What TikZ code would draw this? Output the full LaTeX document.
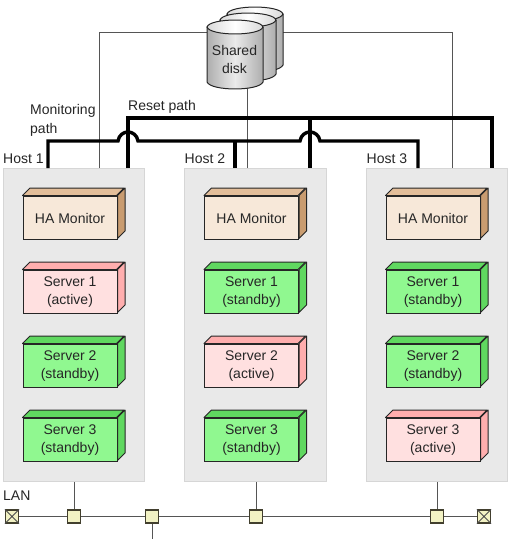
\documentclass[tikz,border=0pt]{standalone}
\usepackage{fontspec}
\setmainfont{Liberation Sans}
\usetikzlibrary{calc}
\definecolor{hostfill}{HTML}{E9E9E9}
\definecolor{hostline}{HTML}{D6D6D6}
\definecolor{hafront}{HTML}{F7E8D9}
\definecolor{hatop}{HTML}{E3BE9A}
\definecolor{haside}{HTML}{C99C70}
\definecolor{redfront}{HTML}{FFE0E0}
\definecolor{redside}{HTML}{FFAEAE}
\definecolor{greenfront}{HTML}{90F890}
\definecolor{greenside}{HTML}{60D860}
\definecolor{hubfill}{HTML}{F2F2C4}
\definecolor{wire}{HTML}{555555}
\tikzset{
  lbl/.style={font=\fontsize{14}{18.5}\selectfont,text=black!85,inner sep=0pt,align=left},
  hostbox/.style={draw=hostline,fill=hostfill,line width=0.8pt,minimum width=141.5pt,minimum height=313.5pt,inner sep=0pt},
  front/.style={draw=black!85,line width=1pt,minimum width=94pt,minimum height=43pt,inner sep=0pt},
  boxtext/.style={inner sep=0pt,align=center,font=\fontsize{14}{18.5}\selectfont,text=black!85},
  thin wire/.style={draw=wire,line width=1pt},
  thick wire/.style={draw=black,line width=3.4pt,line join=miter},
  hub/.style={draw=black!70!olive,fill=hubfill,line width=1.1pt,minimum size=13pt,inner sep=0pt},
}
% name, centre x, centre y, front, top, side, text
\newcommand\srvbox[7]{%
  \node[front,fill=#4] (#1) at (#2,#3) {};
  \node[boxtext] (#1t) at ([yshift=-0.8pt]#1.center) {#7};
  \draw[draw=black!85,line width=1pt,fill=#5,line join=round]
    (#1.north west) -- ++(7.5pt,7.5pt) -- ++(94pt,0pt) -- ++(-7.5pt,-7.5pt) -- cycle;
  \draw[draw=black!85,line width=1pt,fill=#6,line join=round]
    (#1.north east) -- ++(7.5pt,7.5pt) -- ++(0pt,-43pt) -- ++(-7.5pt,-7.5pt) -- cycle;
}
% left x, top y (upper rim), bottom y
\newcommand\cyl[3]{%
  \path[left color=black!32,right color=black!32,middle color=white!92!black]
    (#1,#2+7) -- (#1,#3-7) .. controls (#1+4,#3+2.3) and (#1+52,#3+2.3) .. (#1+56,#3-7) -- (#1+56,#2+7) -- cycle;
  \draw[black!85,line width=1pt]
    (#1,#2+7) -- (#1,#3-7) .. controls (#1+4,#3+2.3) and (#1+52,#3+2.3) .. (#1+56,#3-7) -- (#1+56,#2+7);
  \draw[black!85,line width=1pt,left color=black!15,right color=black!15,middle color=white]
    (#1,#2+7) .. controls (#1+3,#2-2.3) and (#1+53,#2-2.3) .. (#1+56,#2+7)
    .. controls (#1+53,#2+16.3) and (#1+3,#2+16.3) .. (#1,#2+7) -- cycle;
}
\begin{document}
\begin{tikzpicture}[x=1pt,y=-1pt]
\useasboundingbox (0,0) rectangle (511,543);
\fill[white] (0,0) rectangle (511,543);

% hosts
\node[hostbox] (h1) at (74,325) {};
\node[hostbox] (h2) at (255.5,325) {};
\node[hostbox] (h3) at (437,325) {};

% monitoring attach points
\coordinate (dl) at (207,33);
\coordinate (dr) at (283,33);
\coordinate (db) at (247.5,87);
\coordinate (m1) at (99,168);
\coordinate (m2) at (247.5,168);
\coordinate (m3) at (452,168);
\draw[thin wire] (dl) -| (m1);
\draw[thin wire] (db) -- (m2);
\draw[thin wire] (dr) -| (m3);

% disk
\cyl{227}{7}{72}
\cyl{220}{13}{81}
\cyl{207}{20}{89}
\node[font=\fontsize{14}{18.5}\selectfont,text=black!85,align=center,inner sep=0pt,minimum width=56pt,minimum height=69pt] (disk) at (234.5,59.5) {Shared\\disk};

% reset path (upper)
\coordinate (r1) at (128,168);
\coordinate (r2) at (310,168);
\coordinate (r3) at (492,168);
\coordinate (rtop) at (128,118);
\draw[thick wire] (r1) -- (rtop) -- (rtop -| r3) -- (r3);
\draw[thick wire] (rtop -| r2) -- (r2);

% reset path (lower, with hops)
\coordinate (s1) at (48,168);
\coordinate (s2) at (235,168);
\coordinate (s3) at (418,168);
\draw[thick wire] (s1) -- (48,141) -- (118,141) .. controls (120,129) and (136,129) .. (138,141)
  -- (300,141) .. controls (302,129) and (318,129) .. (320,141) -- (418,141) -- (s3);
\draw[thick wire] (235,141) -- (s2);

% labels
\node[lbl,anchor=west] (lm) at (30,120.2) {Monitoring\\path};
\node[lbl,anchor=west] (lr) at (128,107) {Reset path};
\node[lbl,anchor=west] (l1) at (3,158.8) {Host 1};
\node[lbl,anchor=west] (l2) at (184.5,158.8) {Host 2};
\node[lbl,anchor=west] (l3) at (366.5,158.8) {Host 3};
\node[lbl,anchor=west] (ll) at (3,495.8) {LAN};

% servers
\srvbox{a0}{70}{217.5}{hafront}{hatop}{haside}{HA Monitor}
\srvbox{a1}{70}{291.5}{redfront}{redside}{redside}{Server 1\\(active)}
\srvbox{a2}{70}{365.5}{greenfront}{greenside}{greenside}{Server 2\\(standby)}
\srvbox{a3}{70}{439.5}{greenfront}{greenside}{greenside}{Server 3\\(standby)}
\srvbox{b0}{251.5}{217.5}{hafront}{hatop}{haside}{HA Monitor}
\srvbox{b1}{251.5}{291.5}{greenfront}{greenside}{greenside}{Server 1\\(standby)}
\srvbox{b2}{251.5}{365.5}{redfront}{redside}{redside}{Server 2\\(active)}
\srvbox{b3}{251.5}{439.5}{greenfront}{greenside}{greenside}{Server 3\\(standby)}
\srvbox{c0}{433}{217.5}{hafront}{hatop}{haside}{HA Monitor}
\srvbox{c1}{433}{291.5}{greenfront}{greenside}{greenside}{Server 1\\(standby)}
\srvbox{c2}{433}{365.5}{greenfront}{greenside}{greenside}{Server 2\\(standby)}
\srvbox{c3}{433}{439.5}{redfront}{redside}{redside}{Server 3\\(active)}

% LAN
\node[hub] (t1) at (12,516.5) {};
\node[hub] (n1) at (74,516.5) {};
\node[hub] (n2) at (152,516.5) {};
\node[hub] (n3) at (256,516.5) {};
\node[hub] (n4) at (437,516.5) {};
\node[hub] (t2) at (484,516.5) {};
\coordinate (drop) at (152,539);
\draw[thin wire] (t1) -- (n1);
\draw[thin wire] (n1) -- (n2);
\draw[thin wire] (n2) -- (n3);
\draw[thin wire] (n3) -- (n4);
\draw[thin wire] (n4) -- (t2);
\draw[thin wire] (n2) -- (drop);
\draw[thin wire] (h1.south -| n1) -- (n1);
\draw[thin wire] (h2.south -| n3) -- (n3);
\draw[thin wire] (h3.south -| n4) -- (n4);
\draw[black!70,line width=0.8pt] (t1.north west) -- (t1.south east) (t1.north east) -- (t1.south west);
\draw[black!70,line width=0.8pt] (t2.north west) -- (t2.south east) (t2.north east) -- (t2.south west);
\end{tikzpicture}
\end{document}
